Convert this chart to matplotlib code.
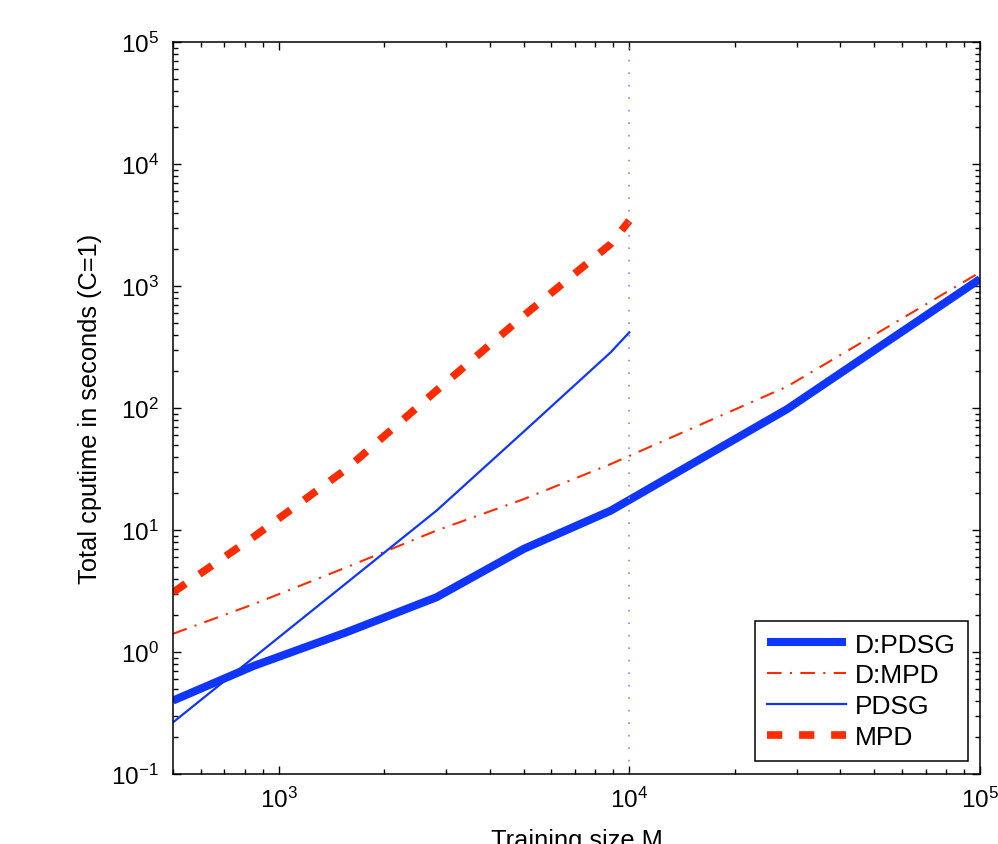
import matplotlib
matplotlib.use("Agg")
import matplotlib.pyplot as plt

plt.rcParams['font.family'] = ['Liberation Sans', 'DejaVu Sans']
plt.rcParams['mathtext.fontset'] = 'custom'
plt.rcParams['mathtext.rm'] = 'Liberation Sans'
plt.rcParams['mathtext.it'] = 'Liberation Sans:italic'
plt.rcParams['mathtext.bf'] = 'Liberation Sans:bold'

# ---- data ----
x_dual = [500, 850, 1560, 2820, 5000, 8850, 28200, 100000]
y_dpdsg = [0.40, 0.77, 1.45, 2.81, 7.0, 14.4, 98, 1140]
y_dmpd = [1.41, 2.47, 4.94, 9.9, 17.9, 34.7, 150, 1295]

x_pdsg = [500, 2820, 5000, 8850, 10000]
y_pdsg = [0.265, 14.4, 64, 286, 417]

x_mpd = [500, 850, 1560, 2820, 5000, 8850, 10000]
y_mpd = [3.08, 8.8, 31.6, 139, 571, 2210, 3430]

vline_x = 10000
labels = ['D:PDSG', 'D:MPD', 'PDSG', 'MPD']
xlim = (500, 100000)
ylim = (0.1, 100000)

blue = '#1035FF'
red = '#FF2B00'

fig = plt.figure(figsize=(9.98, 8.45), dpi=100)
ax = fig.add_axes([173/998, 70/845, 807/998, 732/845])

ax.plot(x_dual, y_dpdsg, color=blue, lw=5.8, solid_capstyle='butt', label=labels[0])
ax.plot(x_dual, y_dmpd, color=red, lw=1.5, dashes=(7, 4, 1, 4), label=labels[1])
ax.plot(x_pdsg, y_pdsg, color=blue, lw=1.6, label=labels[2])
ax.plot(x_mpd, y_mpd, color=red, lw=5.5, dashes=(2.0, 2.2), dash_capstyle='butt', label=labels[3])
ax.axvline(vline_x, color='#7F8CFF', lw=1.2, ls=(0, (1, 6.5)))

ax.set_xscale('log')
ax.set_yscale('log')
ax.set_xlim(*xlim)
ax.set_ylim(*ylim)

ax.tick_params(which='both', direction='in', top=True, right=True, labelsize=17.5, width=1)
ax.tick_params(which='major', length=5.8)
ax.tick_params(which='minor', length=3.3)
ax.tick_params(axis='y', pad=10)
ax.tick_params(axis='x', pad=9)
for s in ax.spines.values():
    s.set_linewidth(1.1)

ax.set_xlabel('Training size M', fontsize=18.3, labelpad=12)
ax.set_ylabel('Total cputime in seconds (C=1)', fontsize=18.3, labelpad=7)

leg = ax.legend(loc='lower right', bbox_to_anchor=(0.9851, 0.0178), borderaxespad=0,
                prop={'size': 19}, fancybox=False, edgecolor='black', framealpha=1,
                handlelength=3.0, handletextpad=0.35, labelspacing=0.26, borderpad=0.45)
leg.get_frame().set_linewidth(1.1)

fig.savefig('out.png', dpi=100)
